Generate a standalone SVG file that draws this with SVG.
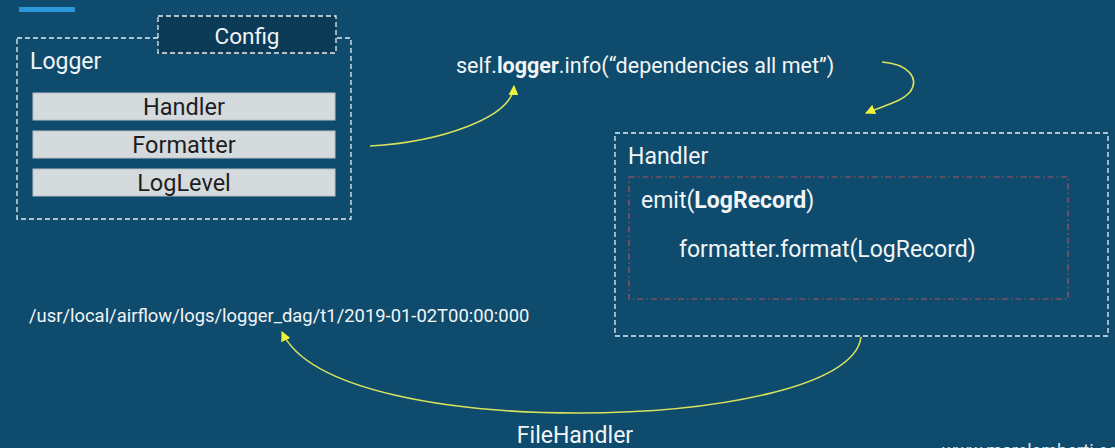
<svg xmlns="http://www.w3.org/2000/svg" width="1115" height="448" viewBox="0 0 1115 448">
<style>
text{font-family:Roboto,"Liberation Sans",sans-serif;}
.w{fill:#f2f5f7;font-size:23px;}
.dk{fill:#1e1e1e;font-size:23.5px;text-anchor:middle;}
.dash{fill:none;stroke:#e6edf2;stroke-width:1.3;stroke-dasharray:5 3;}
.bar{fill:#d5dadd;stroke:#b9c2c8;stroke-width:1;}
.conn{fill:none;stroke:#d8e25c;stroke-width:1.6;}
</style>
<defs>
<marker id="ah" markerWidth="10" markerHeight="10" refX="9" refY="5" orient="auto" markerUnits="userSpaceOnUse">
<path d="M0,0 L10,5 L0,10 z" fill="#eef23a"/>
</marker>
</defs>
<rect width="1115" height="448" fill="#0f4b6c"/>
<rect x="19" y="7" width="56" height="5" fill="#2b96d8"/>
<g id="logger">
<rect class="dash" x="17" y="38" width="334" height="181"/>
<text class="w" x="30" y="69">Logger</text>
</g>
<g id="config">
<rect x="158" y="16" width="178" height="37" fill="#0c3b57" stroke="#e6edf2" stroke-width="1.3" stroke-dasharray="5 3"/>
<text class="w" x="247" y="44" text-anchor="middle" style="font-size:22.5px">Config</text>
</g>
<g id="handler-item">
<rect class="bar" x="33" y="93" width="302" height="27"/>
<text class="dk" x="184" y="115">Handler</text>
</g>
<g id="formatter-item">
<rect class="bar" x="33" y="131" width="302" height="27"/>
<text class="dk" x="184" y="153">Formatter</text>
</g>
<g id="loglevel-item">
<rect class="bar" x="33" y="169" width="302" height="27"/>
<text class="dk" x="184" y="191">LogLevel</text>
</g>
<g id="call">
<text class="w" x="456" y="73" style="font-size:21.5px">self.<tspan font-weight="bold">logger</tspan>.info(“dependencies all met”)</text>
</g>
<g id="handler">
<rect class="dash" x="615" y="133" width="493" height="203"/>
<text class="w" x="628" y="164">Handler</text>
</g>
<g id="emit">
<rect x="629" y="177" width="439" height="122" fill="none" stroke="#b0505e" stroke-width="1.2" stroke-dasharray="6 3 1.5 3"/>
<text class="w" x="641" y="208">emit(<tspan font-weight="bold">LogRecord</tspan>)</text>
<text class="w" x="679" y="257">formatter.format(LogRecord)</text>
</g>
<g id="path">
<text class="w" x="29" y="322" style="font-size:18.4px">/usr/local/airflow/logs/logger_dag/t1/2019-01-02T00:00:000</text>
</g>
<g id="filehandler">
<text class="w" x="575" y="443" text-anchor="middle">FileHandler</text>
</g>
<g id="watermark">
<text x="942" y="457" fill="#dfe6ea" style="font-size:18px">www.marclamberti.com</text>
</g>
<g id="connectors">
<path class="conn" d="M370,146 C440,142 512,118 514,86" marker-end="url(#ah)"/>
<path class="conn" d="M882,62 C908,64 920,78 910,92 C900,103 882,106 866,113" marker-end="url(#ah)"/>
<path class="conn" d="M861,337 C855,388 710,413 578,413 C455,413 310,392 282,332" marker-end="url(#ah)"/>
</g>
</svg>
